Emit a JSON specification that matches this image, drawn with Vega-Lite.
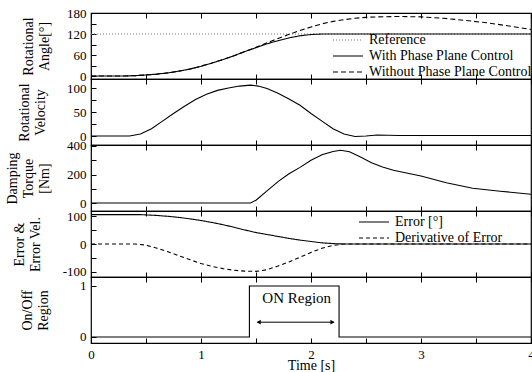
{
  "$schema": "https://vega.github.io/schema/vega-lite/v6.json",
  "background": "white",
  "padding": {"left": 4, "top": 6, "right": 0, "bottom": 0},
  "spacing": 0,
  "bounds": "flush",
  "datasets": {
    "angle": [
      {"s": "Reference", "t": 0, "v": 120}, {"s": "Reference", "t": 4, "v": 120},
      {"s": "With Phase Plane Control", "t": 0, "v": 0}, {"s": "With Phase Plane Control", "t": 0.3, "v": 0},
      {"s": "With Phase Plane Control", "t": 0.4, "v": 1}, {"s": "With Phase Plane Control", "t": 0.5, "v": 3},
      {"s": "With Phase Plane Control", "t": 0.6, "v": 5.5}, {"s": "With Phase Plane Control", "t": 0.7, "v": 9},
      {"s": "With Phase Plane Control", "t": 0.8, "v": 14}, {"s": "With Phase Plane Control", "t": 0.9, "v": 20},
      {"s": "With Phase Plane Control", "t": 1.0, "v": 28}, {"s": "With Phase Plane Control", "t": 1.1, "v": 37},
      {"s": "With Phase Plane Control", "t": 1.2, "v": 47}, {"s": "With Phase Plane Control", "t": 1.3, "v": 58},
      {"s": "With Phase Plane Control", "t": 1.4, "v": 70}, {"s": "With Phase Plane Control", "t": 1.5, "v": 81},
      {"s": "With Phase Plane Control", "t": 1.6, "v": 92}, {"s": "With Phase Plane Control", "t": 1.7, "v": 101},
      {"s": "With Phase Plane Control", "t": 1.8, "v": 109}, {"s": "With Phase Plane Control", "t": 1.9, "v": 115},
      {"s": "With Phase Plane Control", "t": 2.0, "v": 118.5}, {"s": "With Phase Plane Control", "t": 2.1, "v": 120},
      {"s": "With Phase Plane Control", "t": 4.0, "v": 120},
      {"s": "Without Phase Plane Control", "t": 0, "v": 0}, {"s": "Without Phase Plane Control", "t": 0.3, "v": 0},
      {"s": "Without Phase Plane Control", "t": 0.4, "v": 1}, {"s": "Without Phase Plane Control", "t": 0.5, "v": 3},
      {"s": "Without Phase Plane Control", "t": 0.6, "v": 5.5}, {"s": "Without Phase Plane Control", "t": 0.7, "v": 9},
      {"s": "Without Phase Plane Control", "t": 0.8, "v": 14}, {"s": "Without Phase Plane Control", "t": 0.9, "v": 20},
      {"s": "Without Phase Plane Control", "t": 1.0, "v": 28}, {"s": "Without Phase Plane Control", "t": 1.1, "v": 37},
      {"s": "Without Phase Plane Control", "t": 1.2, "v": 47}, {"s": "Without Phase Plane Control", "t": 1.3, "v": 58},
      {"s": "Without Phase Plane Control", "t": 1.4, "v": 70}, {"s": "Without Phase Plane Control", "t": 1.5, "v": 82},
      {"s": "Without Phase Plane Control", "t": 1.6, "v": 95}, {"s": "Without Phase Plane Control", "t": 1.7, "v": 107},
      {"s": "Without Phase Plane Control", "t": 1.8, "v": 119}, {"s": "Without Phase Plane Control", "t": 1.9, "v": 130},
      {"s": "Without Phase Plane Control", "t": 2.0, "v": 140}, {"s": "Without Phase Plane Control", "t": 2.1, "v": 149},
      {"s": "Without Phase Plane Control", "t": 2.2, "v": 156}, {"s": "Without Phase Plane Control", "t": 2.3, "v": 161},
      {"s": "Without Phase Plane Control", "t": 2.4, "v": 165}, {"s": "Without Phase Plane Control", "t": 2.5, "v": 167.5},
      {"s": "Without Phase Plane Control", "t": 2.6, "v": 169}, {"s": "Without Phase Plane Control", "t": 2.8, "v": 170},
      {"s": "Without Phase Plane Control", "t": 3.0, "v": 169}, {"s": "Without Phase Plane Control", "t": 3.2, "v": 165},
      {"s": "Without Phase Plane Control", "t": 3.4, "v": 159}, {"s": "Without Phase Plane Control", "t": 3.6, "v": 152},
      {"s": "Without Phase Plane Control", "t": 3.8, "v": 143}, {"s": "Without Phase Plane Control", "t": 4.0, "v": 133}
    ],
    "velocity": [
      {"t": 0, "v": 0}, {"t": 0.35, "v": 0}, {"t": 0.45, "v": 4}, {"t": 0.55, "v": 15}, {"t": 0.65, "v": 31},
      {"t": 0.75, "v": 47}, {"t": 0.85, "v": 62}, {"t": 0.95, "v": 76}, {"t": 1.05, "v": 87}, {"t": 1.15, "v": 95},
      {"t": 1.25, "v": 100}, {"t": 1.35, "v": 104}, {"t": 1.45, "v": 106}, {"t": 1.52, "v": 104}, {"t": 1.6, "v": 99},
      {"t": 1.7, "v": 89}, {"t": 1.8, "v": 77}, {"t": 1.9, "v": 64}, {"t": 2.0, "v": 47}, {"t": 2.1, "v": 31},
      {"t": 2.2, "v": 15}, {"t": 2.3, "v": 4}, {"t": 2.4, "v": -1}, {"t": 2.5, "v": 0}, {"t": 2.6, "v": 2},
      {"t": 2.8, "v": 1}, {"t": 3.0, "v": 1}, {"t": 4.0, "v": 1}
    ],
    "torque": [
      {"t": 0, "v": 0}, {"t": 1.45, "v": 0}, {"t": 1.5, "v": 20}, {"t": 1.6, "v": 85}, {"t": 1.7, "v": 150},
      {"t": 1.8, "v": 205}, {"t": 1.9, "v": 250}, {"t": 2.0, "v": 300}, {"t": 2.1, "v": 338}, {"t": 2.2, "v": 362},
      {"t": 2.27, "v": 370}, {"t": 2.35, "v": 360}, {"t": 2.45, "v": 322}, {"t": 2.55, "v": 283}, {"t": 2.65, "v": 252},
      {"t": 2.75, "v": 230}, {"t": 2.9, "v": 205}, {"t": 3.0, "v": 190}, {"t": 3.23, "v": 142}, {"t": 3.47, "v": 104},
      {"t": 3.72, "v": 83}, {"t": 4.0, "v": 62}
    ],
    "error": [
      {"s": "Error [°]", "t": 0, "v": 105}, {"s": "Error [°]", "t": 0.45, "v": 105}, {"s": "Error [°]", "t": 0.6, "v": 102},
      {"s": "Error [°]", "t": 0.7, "v": 99}, {"s": "Error [°]", "t": 0.8, "v": 95}, {"s": "Error [°]", "t": 0.9, "v": 90},
      {"s": "Error [°]", "t": 1.0, "v": 84}, {"s": "Error [°]", "t": 1.1, "v": 77}, {"s": "Error [°]", "t": 1.2, "v": 69},
      {"s": "Error [°]", "t": 1.3, "v": 60}, {"s": "Error [°]", "t": 1.4, "v": 50}, {"s": "Error [°]", "t": 1.5, "v": 41},
      {"s": "Error [°]", "t": 1.6, "v": 34}, {"s": "Error [°]", "t": 1.7, "v": 27}, {"s": "Error [°]", "t": 1.8, "v": 20},
      {"s": "Error [°]", "t": 1.9, "v": 14}, {"s": "Error [°]", "t": 2.0, "v": 9}, {"s": "Error [°]", "t": 2.1, "v": 4},
      {"s": "Error [°]", "t": 2.2, "v": 1.5}, {"s": "Error [°]", "t": 2.3, "v": 0}, {"s": "Error [°]", "t": 4.0, "v": 0},
      {"s": "Derivative of Error", "t": 0, "v": 0}, {"s": "Derivative of Error", "t": 0.4, "v": 0},
      {"s": "Derivative of Error", "t": 0.5, "v": -4}, {"s": "Derivative of Error", "t": 0.6, "v": -15},
      {"s": "Derivative of Error", "t": 0.7, "v": -28}, {"s": "Derivative of Error", "t": 0.8, "v": -42},
      {"s": "Derivative of Error", "t": 0.9, "v": -56}, {"s": "Derivative of Error", "t": 1.0, "v": -70},
      {"s": "Derivative of Error", "t": 1.1, "v": -80}, {"s": "Derivative of Error", "t": 1.2, "v": -88},
      {"s": "Derivative of Error", "t": 1.3, "v": -94}, {"s": "Derivative of Error", "t": 1.4, "v": -97},
      {"s": "Derivative of Error", "t": 1.5, "v": -98}, {"s": "Derivative of Error", "t": 1.6, "v": -92},
      {"s": "Derivative of Error", "t": 1.7, "v": -79}, {"s": "Derivative of Error", "t": 1.8, "v": -64},
      {"s": "Derivative of Error", "t": 1.9, "v": -47}, {"s": "Derivative of Error", "t": 2.0, "v": -30},
      {"s": "Derivative of Error", "t": 2.1, "v": -15}, {"s": "Derivative of Error", "t": 2.2, "v": -5},
      {"s": "Derivative of Error", "t": 2.3, "v": 0}, {"s": "Derivative of Error", "t": 4.0, "v": 0}
    ],
    "onoff": [
      {"t": 0, "v": 0}, {"t": 1.44, "v": 1}, {"t": 2.255, "v": 0}, {"t": 4.0, "v": 0}
    ],
    "ends": [{"t": 0}, {"t": 4}]
  },
  "vconcat": [
    {
      "width": 440, "height": 66,
      "layer": [
        {
          "data": {"name": "angle"},
          "mark": {"type": "line", "strokeWidth": 1.1},
          "encoding": {
            "x": {"field": "t", "type": "quantitative", "scale": {"domain": [0, 4], "nice": false, "zero": false},
                  "axis": {"orient": "bottom", "values": [0, 0.5, 1, 1.5, 2, 2.5, 3, 3.5, 4], "labels": false, "title": null}},
            "y": {"field": "v", "type": "quantitative", "scale": {"domain": [-8.5, 180], "nice": false, "zero": false},
                  "axis": {"values": [0, 30, 60, 90, 120, 150, 180], "labelExpr": "datum.value % 60 == 0 ? '' + datum.value : ''",
                           "title": ["Rotational", "Angle[°]"], "titleX": -56}},
            "strokeDash": {"field": "s", "type": "nominal",
                           "scale": {"domain": ["Reference", "With Phase Plane Control", "Without Phase Plane Control"], "range": [[1, 2], [1, 0], [5, 3]]},
                           "legend": {"title": null, "orient": "none", "legendX": 241, "legendY": 19}},
            "color": {"field": "s", "type": "nominal",
                      "scale": {"domain": ["Reference", "With Phase Plane Control", "Without Phase Plane Control"], "range": ["#777777", "#000000", "#000000"]},
                      "legend": {"title": null, "orient": "none", "legendX": 241, "legendY": 19}}
          }
        },
        {
          "data": {"name": "ends"},
          "mark": {"type": "rule", "opacity": 0},
          "encoding": {"x": {"field": "t", "type": "quantitative", "axis": {"orient": "top", "values": [0, 0.5, 1, 1.5, 2, 2.5, 3, 3.5, 4], "labels": false, "title": null}}}
        }
      ],
      "resolve": {"axis": {"x": "independent"}}
    },
    {
      "width": 440, "height": 66,
      "layer": [
        {
          "data": {"name": "velocity"},
          "mark": {"type": "line", "strokeWidth": 1.1, "color": "#000"},
          "encoding": {
            "x": {"field": "t", "type": "quantitative", "scale": {"domain": [0, 4], "nice": false, "zero": false},
                  "axis": {"orient": "bottom", "values": [0, 0.5, 1, 1.5, 2, 2.5, 3, 3.5, 4], "labels": false, "title": null}},
            "y": {"field": "v", "type": "quantitative", "scale": {"domain": [-18.75, 118.75], "nice": false, "zero": false},
                  "axis": {"values": [0, 25, 50, 75, 100], "labelExpr": "datum.value % 50 == 0 ? '' + datum.value : ''",
                           "title": ["Rotational", "Velocity"], "titleX": -60}}
          }
        },
        {
          "data": {"name": "ends"},
          "mark": {"type": "rule", "opacity": 0},
          "encoding": {"x": {"field": "t", "type": "quantitative", "axis": {"orient": "top", "values": [0, 0.5, 1, 1.5, 2, 2.5, 3, 3.5, 4], "labels": false, "title": null}}}
        }
      ],
      "resolve": {"axis": {"x": "independent"}}
    },
    {
      "width": 440, "height": 66,
      "layer": [
        {
          "data": {"name": "torque"},
          "mark": {"type": "line", "strokeWidth": 1.1, "color": "#000"},
          "encoding": {
            "x": {"field": "t", "type": "quantitative", "scale": {"domain": [0, 4], "nice": false, "zero": false},
                  "axis": {"orient": "bottom", "values": [0, 0.5, 1, 1.5, 2, 2.5, 3, 3.5, 4], "labels": false, "title": null}},
            "y": {"field": "v", "type": "quantitative", "scale": {"domain": [-56, 407], "nice": false, "zero": false},
                  "axis": {"values": [0, 100, 200, 300, 400], "labelExpr": "datum.value % 200 == 0 ? '' + datum.value : ''",
                           "title": ["Damping", "Torque", "[Nm]"], "titleX": -72}}
          }
        },
        {
          "data": {"name": "ends"},
          "mark": {"type": "rule", "opacity": 0},
          "encoding": {"x": {"field": "t", "type": "quantitative", "axis": {"orient": "top", "values": [0, 0.5, 1, 1.5, 2, 2.5, 3, 3.5, 4], "labels": false, "title": null}}}
        }
      ],
      "resolve": {"axis": {"x": "independent"}}
    },
    {
      "width": 440, "height": 66,
      "layer": [
        {
          "data": {"name": "error"},
          "mark": {"type": "line", "strokeWidth": 1.1, "color": "#000"},
          "encoding": {
            "x": {"field": "t", "type": "quantitative", "scale": {"domain": [0, 4], "nice": false, "zero": false},
                  "axis": {"orient": "bottom", "values": [0, 0.5, 1, 1.5, 2, 2.5, 3, 3.5, 4], "labels": false, "title": null}},
            "y": {"field": "v", "type": "quantitative", "scale": {"domain": [-118, 118], "nice": false, "zero": false},
                  "axis": {"values": [-100, -50, 0, 50, 100], "labelExpr": "datum.value % 100 == 0 ? '' + datum.value : ''",
                           "title": ["Error &", "Error Vel."], "titleX": -65}},
            "strokeDash": {"field": "s", "type": "nominal",
                           "scale": {"domain": ["Error [°]", "Derivative of Error"], "range": [[1, 0], [4, 3]]},
                           "legend": {"title": null, "orient": "none", "legendX": 267, "legendY": 3, "symbolStrokeColor": "#000"}}
          }
        },
        {
          "data": {"name": "ends"},
          "mark": {"type": "rule", "opacity": 0},
          "encoding": {"x": {"field": "t", "type": "quantitative", "axis": {"orient": "top", "values": [0, 0.5, 1, 1.5, 2, 2.5, 3, 3.5, 4], "labels": false, "title": null}}}
        }
      ],
      "resolve": {"axis": {"x": "independent"}}
    },
    {
      "width": 440, "height": 66,
      "layer": [
        {
          "data": {"name": "onoff"},
          "mark": {"type": "line", "strokeWidth": 1.1, "color": "#000", "interpolate": "step-after"},
          "encoding": {
            "x": {"field": "t", "type": "quantitative", "scale": {"domain": [0, 4], "nice": false, "zero": false},
                  "axis": {"orient": "bottom", "values": [0, 0.5, 1, 1.5, 2, 2.5, 3, 3.5, 4],
                           "labelExpr": "datum.value % 1 == 0 ? '' + datum.value : ''", "title": "Time [s]", "titlePadding": -3}},
            "y": {"field": "v", "type": "quantitative", "scale": {"domain": [-0.118, 1.176], "nice": false, "zero": false},
                  "axis": {"values": [0, 0.25, 0.5, 0.75, 1], "labelExpr": "datum.value == 0 || datum.value == 1 ? '' + datum.value : ''",
                           "title": ["On/Off", "Region"], "titleX": -57}}
          }
        },
        {
          "data": {"values": [{"t": 1.87, "v": 0.76, "label": "ON Region"}]},
          "mark": {"type": "text", "font": "Liberation Serif", "fontSize": 15, "color": "#000"},
          "encoding": {
            "x": {"field": "t", "type": "quantitative", "axis": null},
            "y": {"field": "v", "type": "quantitative"},
            "text": {"field": "label"}
          }
        },
        {
          "data": {"values": [{"t": 1.51, "t2": 2.21, "v": 0.29}]},
          "mark": {"type": "rule", "color": "#000", "strokeWidth": 1},
          "encoding": {
            "x": {"field": "t", "type": "quantitative", "axis": null},
            "x2": {"field": "t2"},
            "y": {"field": "v", "type": "quantitative"}
          }
        },
        {
          "data": {"values": [{"t": 1.525, "v": 0.29, "shape": "triangle-left"}, {"t": 2.195, "v": 0.29, "shape": "triangle-right"}]},
          "mark": {"type": "point", "filled": true, "color": "#000", "size": 22, "opacity": 1},
          "encoding": {
            "x": {"field": "t", "type": "quantitative", "axis": null},
            "y": {"field": "v", "type": "quantitative"},
            "shape": {"field": "shape", "type": "nominal", "scale": null}
          }
        },
        {
          "data": {"name": "ends"},
          "mark": {"type": "rule", "opacity": 0},
          "encoding": {"x": {"field": "t", "type": "quantitative", "axis": {"orient": "top", "values": [0, 0.5, 1, 1.5, 2, 2.5, 3, 3.5, 4], "labels": false, "title": null}}}
        }
      ],
      "resolve": {"axis": {"x": "independent"}}
    }
  ],
  "resolve": {"scale": {"strokeDash": "independent", "color": "independent"}, "legend": {"strokeDash": "independent", "color": "independent"}},
  "config": {
    "font": "Liberation Serif",
    "view": {"stroke": "#000", "strokeWidth": 1.2},
    "axis": {"domain": false, "grid": false, "ticks": true, "tickColor": "#000", "tickSize": -5, "tickWidth": 1,
             "labelFont": "Liberation Serif", "labelFontSize": 13, "labelColor": "#000", "labelFlush": false, "labelOverlap": false, "labelPadding": 10,
             "titleFont": "Liberation Serif", "titleFontSize": 14, "titleFontWeight": "normal", "titleColor": "#000", "titleLineHeight": 16},
    "axisY": {"titleBaseline": "bottom"},
    "legend": {"labelFont": "Liberation Serif", "labelFontSize": 14, "labelColor": "#000", "symbolType": "stroke", "symbolSize": 900,
               "symbolStrokeWidth": 1.1, "padding": 0, "rowPadding": 0, "labelOffset": 5, "clipHeight": 16, "labelLimit": 300}
  }
}
